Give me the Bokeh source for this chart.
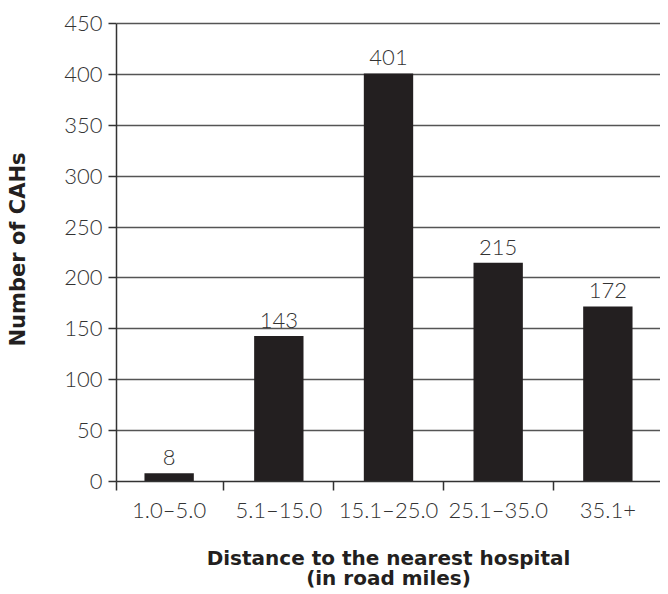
from bokeh.plotting import figure
from bokeh.models import ColumnDataSource, FixedTicker, Range1d
from bokeh.core.properties import value
from bokeh.embed import file_html
from bokeh.resources import INLINE

categories = ["1.0–5.0", "5.1–15.0", "15.1–25.0", "25.1–35.0", "35.1+"]
counts = [8, 143, 401, 215, 172]
y_ticks = [0, 50, 100, 150, 200, 250, 300, 350, 400, 450]
y_title = "Number of CAHs"
x_title = "Distance to the nearest hospital\n(in road miles)"

xs = list(range(len(categories)))
src = ColumnDataSource(dict(x=xs, top=counts, label=[str(c) for c in counts]))

FONT = "'Lato Light', Lato"
TITLE_FONT = "DejaVu Sans"
TXT = "#333333"

X0, X1 = -0.48, len(categories) - 0.52

p = figure(frame_width=544, frame_height=464, output_backend="svg", toolbar_location=None,
           x_range=Range1d(X0, X1), y_range=Range1d(0, 456),
           min_border_left=116, min_border_right=0, min_border_top=17, min_border_bottom=105)
p.outline_line_color = None
p.background_fill_color = "white"
p.border_fill_color = "white"

p.vbar(x="x", top="top", width=0.45, source=src, fill_color="#231f20", line_color=None)
p.text(x="x", y="top", text="label", source=src, text_align="center", text_baseline="bottom",
       y_offset=-8, text_font=value(FONT), text_font_size="22px", text_color=TXT)

# y axis
p.yaxis.ticker = FixedTicker(ticks=y_ticks)
p.yaxis.bounds = (0, 450)
p.yaxis.minor_tick_line_color = None
p.yaxis.major_tick_in = 0
p.yaxis.major_tick_out = 8
p.yaxis.major_tick_line_color = "#333333"
p.yaxis.major_tick_line_width = 1.5
p.yaxis.axis_line_color = "#333333"
p.yaxis.axis_line_width = 1.5
p.yaxis.major_label_text_font = FONT
p.yaxis.major_label_text_font_size = "22px"
p.yaxis.major_label_text_color = TXT
p.yaxis.major_label_standoff = 6
p.yaxis.axis_label = y_title
p.yaxis.axis_label_text_font = TITLE_FONT
p.yaxis.axis_label_text_font_style = "bold"
p.yaxis.axis_label_text_font_size = "21px"
p.yaxis.axis_label_text_color = "#231f20"
p.yaxis.axis_label_standoff = 31

# x axis
p.xaxis.ticker = FixedTicker(ticks=xs, minor_ticks=[X0, 0.5, 1.5, 2.5, 3.5])
p.xaxis.major_label_overrides = {i: c for i, c in enumerate(categories)}
p.xaxis.major_tick_in = 0
p.xaxis.major_tick_out = 0
p.xaxis.minor_tick_in = 0
p.xaxis.minor_tick_out = 9
p.xaxis.minor_tick_line_color = "#333333"
p.xaxis.minor_tick_line_width = 1.5
p.xaxis.axis_line_color = "#333333"
p.xaxis.axis_line_width = 1.5
p.xaxis.major_label_text_font = FONT
p.xaxis.major_label_text_font_size = "22px"
p.xaxis.major_label_text_color = TXT
p.xaxis.major_label_standoff = 5
p.xaxis.axis_label = x_title
p.xaxis.axis_label_text_font = TITLE_FONT
p.xaxis.axis_label_text_font_style = "bold"
p.xaxis.axis_label_text_font_size = "20px"
p.xaxis.axis_label_text_line_height = 0.85
p.xaxis.axis_label_text_color = "#231f20"
p.xaxis.axis_label_standoff = 20

p.xgrid.grid_line_color = None
p.ygrid.ticker = FixedTicker(ticks=y_ticks)
p.ygrid.grid_line_color = "#555555"
p.ygrid.grid_line_width = 1.5

open("out.html", "w").write(file_html(p, INLINE))
